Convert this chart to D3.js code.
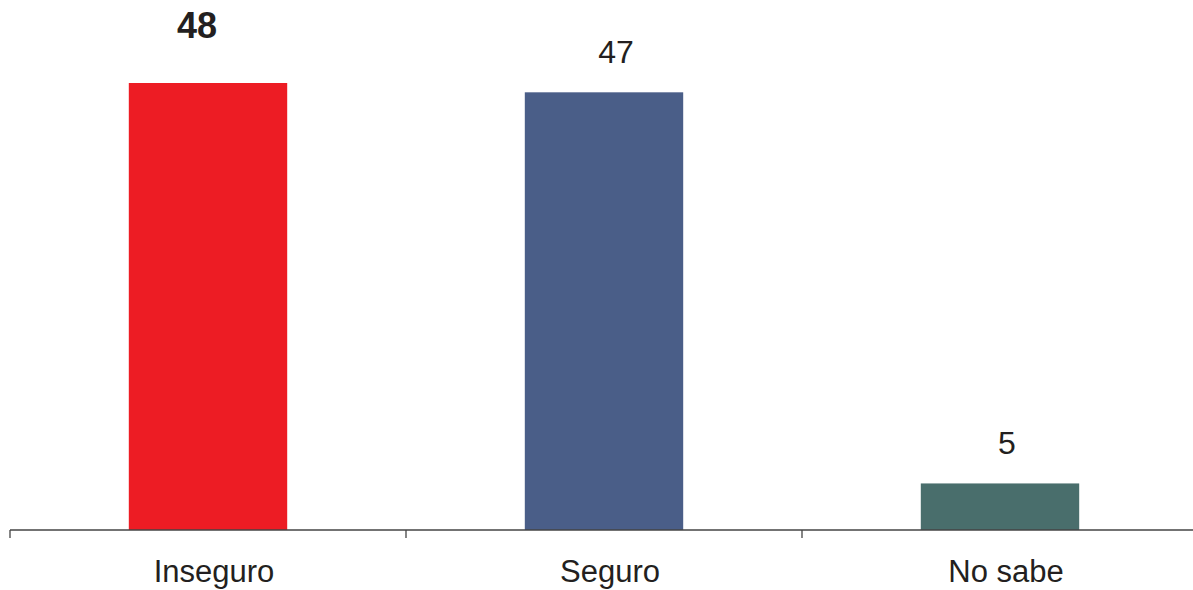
<!DOCTYPE html>
<html><head><meta charset="utf-8">
<script src="https://cdn.jsdelivr.net/npm/d3@7"></script>
<style>html,body{margin:0;padding:0;background:#fff;}svg{display:block;}</style>
</head><body>
<script>
const categories = ["Inseguro", "Seguro", "No sabe"];
const values = [48, 47, 5];
const colors = ["#ED1C24", "#4A5E88", "#496E6C"];
const boldLabel = [true, false, false];

const W = 1193, H = 590;
const svg = d3.select("body").append("svg").attr("width", W).attr("height", H);
const x = d3.scaleBand().domain(categories).range([10, 1198]).paddingInner(0.6).paddingOuter(0.3);
const y = d3.scaleLinear().domain([0, 48]).range([530, 83]);
const font = "'Liberation Sans', Arial, sans-serif";
// layout: horizontal nudges of the value labels as placed in the original
const valueLabelDx = [-11, 12, 7];

svg.selectAll("rect.bar").data(values).enter().append("rect")
  .attr("x", (d, i) => x(categories[i]))
  .attr("width", x.bandwidth())
  .attr("y", d => y(d))
  .attr("height", d => y(0) - y(d))
  .attr("fill", (d, i) => colors[i]);

// axis
const step = x.step();
svg.append("line").attr("x1", 10).attr("x2", W).attr("y1", y(0)).attr("y2", y(0))
  .attr("stroke", "#444").attr("stroke-width", 1.3);
d3.range(categories.length + 1).forEach(i => {
  const tx = 10 + i * step;
  svg.append("line").attr("x1", tx).attr("x2", tx).attr("y1", y(0)).attr("y2", y(0) + 8)
    .attr("stroke", "#444").attr("stroke-width", 1.3);
});

svg.selectAll("text.val").data(values).enter().append("text")
  .attr("x", (d, i) => x(categories[i]) + x.bandwidth() / 2 + valueLabelDx[i])
  .attr("y", (d, i) => y(d) - (boldLabel[i] ? 45 : 29))
  .attr("text-anchor", "middle")
  .attr("font-family", font)
  .attr("font-size", (d, i) => boldLabel[i] ? 36 : 32)
  .attr("font-weight", (d, i) => boldLabel[i] ? "bold" : "normal")
  .attr("fill", "#231F20")
  .text(d => d);

svg.selectAll("text.cat").data(categories).enter().append("text")
  .attr("x", d => x(d) + x.bandwidth() / 2 + 6)
  .attr("y", 582)
  .attr("text-anchor", "middle")
  .attr("font-family", font)
  .attr("font-size", 31)
  .attr("fill", "#231F20")
  .text(d => d);
</script>
</body></html>
